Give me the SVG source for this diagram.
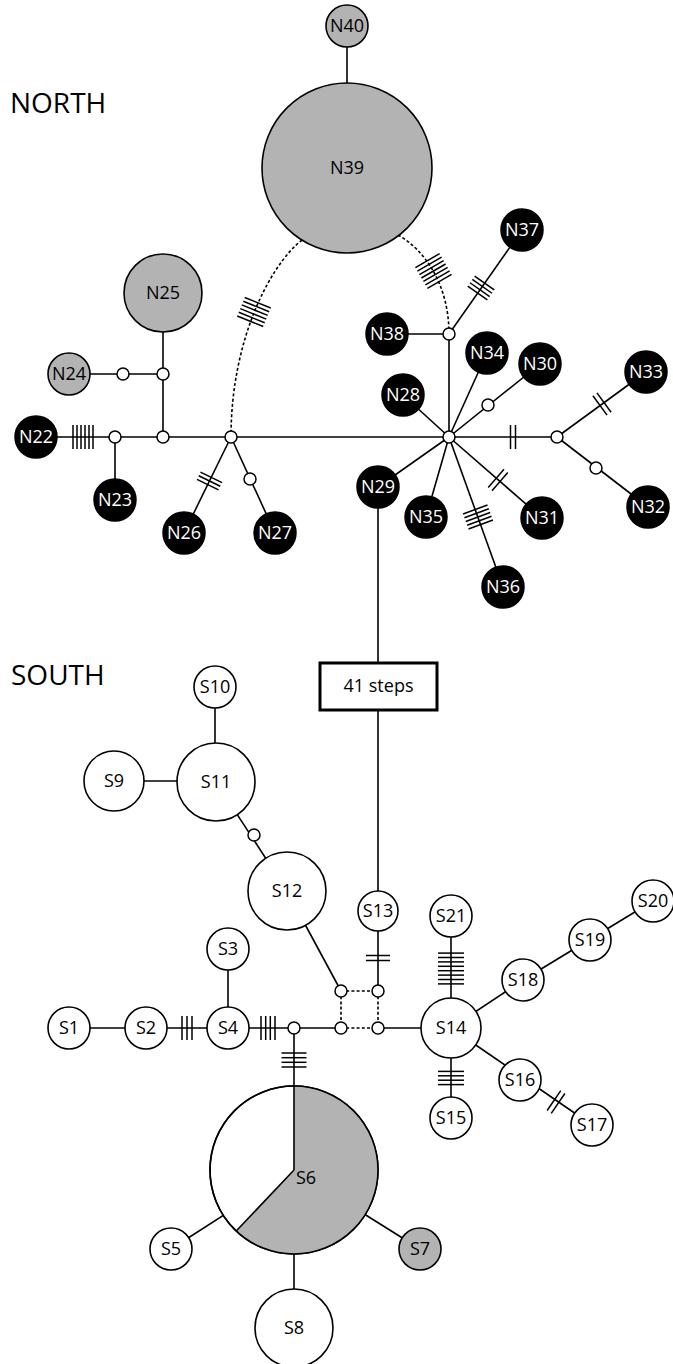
<svg xmlns="http://www.w3.org/2000/svg" width="673" height="1364" viewBox="0 0 673 1364">
  <defs>
    <style>
      .e { stroke: #000; stroke-width: 1.6; fill: none; }
      .d { stroke: #000; stroke-width: 1.6; fill: none; stroke-dasharray: 3 2.2; }
      .tk line { stroke: #000; stroke-width: 1.5; }
      .blk { fill: #000; stroke: #000; stroke-width: 1.5; }
      .gry { fill: #b3b3b3; stroke: #000; stroke-width: 1.6; }
      .wht { fill: #fff; stroke: #000; stroke-width: 1.6; }
      .mv { fill: #fff; stroke: #000; stroke-width: 1.5; }
      .lb { font-family: "Open Sans", "DejaVu Sans", sans-serif; font-size: 18px; text-anchor: middle; fill: #000; }
      .lw { font-family: "Open Sans", "DejaVu Sans", sans-serif; font-size: 18px; text-anchor: middle; fill: #fff; }
      .ttl { font-family: "Open Sans", "DejaVu Sans", sans-serif; font-size: 28px; fill: #000; }
    </style>
  </defs>
  <rect width="673" height="1364" fill="#fff"/>

  <!-- region titles -->
  <text class="ttl" x="10" y="113">NORTH</text>
  <text class="ttl" x="11" y="685">SOUTH</text>

  <!-- connectors -->
  <g id="connectors">
    <!-- north -->
    <line class="e" x1="347" y1="47" x2="347" y2="83"/>
    <path class="d" d="M302 240 C270 265 231 340 231 437"/>
    <path class="d" d="M398 235 C425 250 449 285 449 334"/>
    <line class="e" x1="57" y1="437" x2="557" y2="437"/>
    <line class="e" x1="115" y1="437" x2="115" y2="479"/>
    <line class="e" x1="163" y1="332" x2="163" y2="437"/>
    <line class="e" x1="90" y1="374" x2="163" y2="374"/>
    <line class="e" x1="231" y1="437" x2="184" y2="533"/>
    <line class="e" x1="231" y1="437" x2="275" y2="533"/>
    <line class="e" x1="387" y1="334" x2="449" y2="334"/>
    <line class="e" x1="449" y1="334" x2="449" y2="437"/>
    <line class="e" x1="449" y1="334" x2="522" y2="230"/>
    <line class="e" x1="449" y1="437" x2="487" y2="353"/>
    <line class="e" x1="449" y1="437" x2="540" y2="364"/>
    <line class="e" x1="449" y1="437" x2="403" y2="395"/>
    <line class="e" x1="449" y1="437" x2="378" y2="487"/>
    <line class="e" x1="449" y1="437" x2="426" y2="517"/>
    <line class="e" x1="449" y1="437" x2="503" y2="587"/>
    <line class="e" x1="449" y1="437" x2="542" y2="518"/>
    <line class="e" x1="557" y1="437" x2="646" y2="372"/>
    <line class="e" x1="557" y1="437" x2="648" y2="507"/>
    <!-- link between regions -->
    <line class="e" x1="378" y1="508" x2="378" y2="663"/>
    <line class="e" x1="378" y1="710" x2="378" y2="891"/>
    <!-- south -->
    <line class="e" x1="378" y1="931" x2="378" y2="991"/>
    <line class="e" x1="287" y1="891" x2="341" y2="991"/>
    <line class="d" x1="341" y1="991" x2="378" y2="991"/>
    <line class="d" x1="341" y1="991" x2="341" y2="1028"/>
    <line class="d" x1="378" y1="991" x2="378" y2="1028"/>
    <line class="d" x1="341" y1="1028" x2="378" y2="1028"/>
    <line class="e" x1="69" y1="1028" x2="341" y2="1028"/>
    <line class="e" x1="378" y1="1028" x2="421" y2="1028"/>
    <line class="e" x1="228" y1="949" x2="228" y2="1028"/>
    <line class="e" x1="294" y1="1028" x2="294" y2="1086"/>
    <line class="e" x1="451" y1="916" x2="451" y2="1118"/>
    <line class="e" x1="451" y1="1028" x2="523" y2="980"/>
    <line class="e" x1="523" y1="980" x2="653" y2="901"/>
    <line class="e" x1="451" y1="1028" x2="592" y2="1125"/>
    <line class="e" x1="114" y1="781" x2="216" y2="781"/>
    <line class="e" x1="215" y1="687" x2="215" y2="743"/>
    <line class="e" x1="216" y1="782" x2="287" y2="891"/>
    <line class="e" x1="294" y1="1170" x2="171" y2="1249"/>
    <line class="e" x1="294" y1="1170" x2="420" y2="1249"/>
    <line class="e" x1="294" y1="1170" x2="294" y2="1328"/>

    <!-- mutation ticks -->
    <g class="tk" transform="translate(83 437)">
      <line x1="-10" y1="-12" x2="-10" y2="12"/><line x1="-6" y1="-12" x2="-6" y2="12"/>
      <line x1="-2" y1="-12" x2="-2" y2="12"/><line x1="2" y1="-12" x2="2" y2="12"/>
      <line x1="6" y1="-12" x2="6" y2="12"/><line x1="10" y1="-12" x2="10" y2="12"/>
    </g>
    <g class="tk" transform="translate(209.5 481) rotate(116)">
      <line x1="-4" y1="-12" x2="-4" y2="12"/><line x1="0" y1="-12" x2="0" y2="12"/>
      <line x1="4" y1="-12" x2="4" y2="12"/>
    </g>
    <g class="tk" transform="translate(254 312) rotate(112)">
      <line x1="-10" y1="-14" x2="-10" y2="14"/><line x1="-6" y1="-14" x2="-6" y2="14"/>
      <line x1="-2" y1="-14" x2="-2" y2="14"/><line x1="2" y1="-14" x2="2" y2="14"/>
      <line x1="6" y1="-14" x2="6" y2="14"/><line x1="10" y1="-14" x2="10" y2="14"/>
    </g>
    <g class="tk" transform="translate(433.5 271) rotate(60)">
      <line x1="-12" y1="-14" x2="-12" y2="14"/><line x1="-8" y1="-14" x2="-8" y2="14"/>
      <line x1="-4" y1="-14" x2="-4" y2="14"/><line x1="0" y1="-14" x2="0" y2="14"/>
      <line x1="4" y1="-14" x2="4" y2="14"/><line x1="8" y1="-14" x2="8" y2="14"/>
      <line x1="12" y1="-14" x2="12" y2="14"/>
    </g>
    <g class="tk" transform="translate(481 288) rotate(-55)">
      <line x1="-6" y1="-12" x2="-6" y2="12"/><line x1="-2" y1="-12" x2="-2" y2="12"/>
      <line x1="2" y1="-12" x2="2" y2="12"/><line x1="6" y1="-12" x2="6" y2="12"/>
    </g>
    <g class="tk" transform="translate(513 437)">
      <line x1="-2.5" y1="-12" x2="-2.5" y2="12"/><line x1="2.5" y1="-12" x2="2.5" y2="12"/>
    </g>
    <g class="tk" transform="translate(602 404) rotate(-36)">
      <line x1="-2.5" y1="-12" x2="-2.5" y2="12"/><line x1="2.5" y1="-12" x2="2.5" y2="12"/>
    </g>
    <g class="tk" transform="translate(498 480) rotate(41)">
      <line x1="-2.5" y1="-12" x2="-2.5" y2="12"/><line x1="2.5" y1="-12" x2="2.5" y2="12"/>
    </g>
    <g class="tk" transform="translate(478 517) rotate(70)">
      <line x1="-8" y1="-13" x2="-8" y2="13"/><line x1="-4" y1="-13" x2="-4" y2="13"/>
      <line x1="0" y1="-13" x2="0" y2="13"/><line x1="4" y1="-13" x2="4" y2="13"/>
      <line x1="8" y1="-13" x2="8" y2="13"/>
    </g>
    <g class="tk" transform="translate(187 1028)">
      <line x1="-5" y1="-12" x2="-5" y2="12"/><line x1="0" y1="-12" x2="0" y2="12"/>
      <line x1="5" y1="-12" x2="5" y2="12"/>
    </g>
    <g class="tk" transform="translate(268 1028)">
      <line x1="-7" y1="-12" x2="-7" y2="12"/><line x1="-2.3" y1="-12" x2="-2.3" y2="12"/>
      <line x1="2.3" y1="-12" x2="2.3" y2="12"/><line x1="7" y1="-12" x2="7" y2="12"/>
    </g>
    <g class="tk" transform="translate(294 1060) rotate(90)">
      <line x1="-7" y1="-12.5" x2="-7" y2="12.5"/><line x1="-2.3" y1="-12.5" x2="-2.3" y2="12.5"/>
      <line x1="2.3" y1="-12.5" x2="2.3" y2="12.5"/><line x1="7" y1="-12.5" x2="7" y2="12.5"/>
    </g>
    <g class="tk" transform="translate(378 958) rotate(90)">
      <line x1="-2.5" y1="-12" x2="-2.5" y2="12"/><line x1="2.5" y1="-12" x2="2.5" y2="12"/>
    </g>
    <g class="tk" transform="translate(451 968.5) rotate(90)">
      <line x1="-15.4" y1="-13" x2="-15.4" y2="13"/><line x1="-11" y1="-13" x2="-11" y2="13"/>
      <line x1="-6.6" y1="-13" x2="-6.6" y2="13"/><line x1="-2.2" y1="-13" x2="-2.2" y2="13"/>
      <line x1="2.2" y1="-13" x2="2.2" y2="13"/><line x1="6.6" y1="-13" x2="6.6" y2="13"/>
      <line x1="11" y1="-13" x2="11" y2="13"/><line x1="15.4" y1="-13" x2="15.4" y2="13"/>
    </g>
    <g class="tk" transform="translate(451 1078) rotate(90)">
      <line x1="-6.6" y1="-13" x2="-6.6" y2="13"/><line x1="-2.2" y1="-13" x2="-2.2" y2="13"/>
      <line x1="2.2" y1="-13" x2="2.2" y2="13"/><line x1="6.6" y1="-13" x2="6.6" y2="13"/>
    </g>
    <g class="tk" transform="translate(556 1102) rotate(34.5)">
      <line x1="-2.5" y1="-12" x2="-2.5" y2="12"/><line x1="2.5" y1="-12" x2="2.5" y2="12"/>
    </g>
  </g>

  <!-- median vectors -->
  <g id="median-vectors">
    <circle class="mv" cx="115" cy="437" r="6"/>
    <circle class="mv" cx="163" cy="437" r="6"/>
    <circle class="mv" cx="163" cy="374" r="6"/>
    <circle class="mv" cx="123" cy="374" r="6"/>
    <circle class="mv" cx="231" cy="437" r="6"/>
    <circle class="mv" cx="250" cy="479" r="6"/>
    <circle class="mv" cx="449" cy="334" r="6"/>
    <circle class="mv" cx="449" cy="437" r="6"/>
    <circle class="mv" cx="488" cy="405" r="6"/>
    <circle class="mv" cx="557" cy="437" r="6"/>
    <circle class="mv" cx="596" cy="468" r="6"/>
    <circle class="mv" cx="254" cy="835" r="6"/>
    <circle class="mv" cx="294" cy="1028" r="6"/>
    <circle class="mv" cx="341" cy="991" r="6"/>
    <circle class="mv" cx="378" cy="991" r="6"/>
    <circle class="mv" cx="341" cy="1028" r="6"/>
    <circle class="mv" cx="378" cy="1028" r="6"/>
  </g>

  <!-- north haplotypes -->
  <g id="N40"><circle class="gry" cx="347" cy="26" r="21"/><text class="lb" x="347" y="32">N40</text></g>
  <g id="N39"><circle class="gry" cx="347" cy="168" r="85"/><text class="lb" x="347" y="174">N39</text></g>
  <g id="N25"><circle class="gry" cx="163" cy="293" r="39"/><text class="lb" x="163" y="299">N25</text></g>
  <g id="N24"><circle class="gry" cx="69" cy="374" r="21"/><text class="lb" x="69" y="380">N24</text></g>
  <g id="N22"><circle class="blk" cx="36" cy="437" r="21"/><text class="lw" x="36" y="443">N22</text></g>
  <g id="N23"><circle class="blk" cx="115" cy="500" r="21"/><text class="lw" x="115" y="506">N23</text></g>
  <g id="N26"><circle class="blk" cx="184" cy="533" r="21"/><text class="lw" x="184" y="539">N26</text></g>
  <g id="N27"><circle class="blk" cx="275" cy="533" r="21"/><text class="lw" x="275" y="539">N27</text></g>
  <g id="N37"><circle class="blk" cx="522" cy="230" r="21"/><text class="lw" x="522" y="236">N37</text></g>
  <g id="N38"><circle class="blk" cx="387" cy="334" r="21"/><text class="lw" x="387" y="340">N38</text></g>
  <g id="N34"><circle class="blk" cx="487" cy="353" r="21"/><text class="lw" x="487" y="359">N34</text></g>
  <g id="N30"><circle class="blk" cx="540" cy="364" r="21"/><text class="lw" x="540" y="370">N30</text></g>
  <g id="N28"><circle class="blk" cx="403" cy="395" r="21"/><text class="lw" x="403" y="401">N28</text></g>
  <g id="N33"><circle class="blk" cx="646" cy="372" r="21"/><text class="lw" x="646" y="378">N33</text></g>
  <g id="N29"><circle class="blk" cx="378" cy="487" r="21"/><text class="lw" x="378" y="493">N29</text></g>
  <g id="N35"><circle class="blk" cx="426" cy="517" r="21"/><text class="lw" x="426" y="523">N35</text></g>
  <g id="N31"><circle class="blk" cx="542" cy="518" r="21"/><text class="lw" x="542" y="524">N31</text></g>
  <g id="N36"><circle class="blk" cx="503" cy="587" r="21"/><text class="lw" x="503" y="593">N36</text></g>
  <g id="N32"><circle class="blk" cx="648" cy="507" r="21"/><text class="lw" x="648" y="513">N32</text></g>

  <!-- step count box -->
  <g id="steps">
    <rect x="320" y="663" width="117" height="47" fill="#fff" stroke="#000" stroke-width="3"/>
    <text class="lb" x="378.5" y="692">41 steps</text>
  </g>

  <!-- south haplotypes -->
  <g id="S10"><circle class="wht" cx="215" cy="687" r="21"/><text class="lb" x="215" y="693">S10</text></g>
  <g id="S11"><circle class="wht" cx="216" cy="782" r="39"/><text class="lb" x="216" y="788">S11</text></g>
  <g id="S9"><circle class="wht" cx="114" cy="781" r="30"/><text class="lb" x="114" y="787">S9</text></g>
  <g id="S12"><circle class="wht" cx="287" cy="891" r="39"/><text class="lb" x="287" y="897">S12</text></g>
  <g id="S13"><circle class="wht" cx="378" cy="911" r="20"/><text class="lb" x="378" y="917">S13</text></g>
  <g id="S21"><circle class="wht" cx="451" cy="916" r="21"/><text class="lb" x="451" y="922">S21</text></g>
  <g id="S3"><circle class="wht" cx="228" cy="949" r="21"/><text class="lb" x="228" y="955">S3</text></g>
  <g id="S1"><circle class="wht" cx="69" cy="1028" r="21"/><text class="lb" x="69" y="1034">S1</text></g>
  <g id="S2"><circle class="wht" cx="146" cy="1028" r="21"/><text class="lb" x="146" y="1034">S2</text></g>
  <g id="S4"><circle class="wht" cx="228" cy="1028" r="21"/><text class="lb" x="228" y="1034">S4</text></g>
  <g id="S14"><circle class="wht" cx="451" cy="1028" r="30"/><text class="lb" x="451" y="1034">S14</text></g>
  <g id="S15"><circle class="wht" cx="451" cy="1118" r="21"/><text class="lb" x="451" y="1124">S15</text></g>
  <g id="S18"><circle class="wht" cx="523" cy="980" r="21"/><text class="lb" x="523" y="986">S18</text></g>
  <g id="S19"><circle class="wht" cx="590" cy="940" r="21"/><text class="lb" x="590" y="946">S19</text></g>
  <g id="S20"><circle class="wht" cx="653" cy="901" r="21"/><text class="lb" x="653" y="907">S20</text></g>
  <g id="S16"><circle class="wht" cx="520" cy="1080" r="21"/><text class="lb" x="520" y="1086">S16</text></g>
  <g id="S17"><circle class="wht" cx="592" cy="1125" r="21"/><text class="lb" x="592" y="1131">S17</text></g>
  <g id="S6">
    <circle class="wht" cx="294" cy="1170" r="84"/>
    <path d="M294 1170 L294 1086 A84 84 0 1 1 236.2 1231 Z" fill="#b3b3b3"/>
    <circle cx="294" cy="1170" r="84" fill="none" stroke="#000" stroke-width="1.6"/>
    <line class="e" x1="294" y1="1086" x2="294" y2="1170"/>
    <line class="e" x1="294" y1="1170" x2="236.2" y2="1231"/>
    <text class="lb" x="296" y="1184" text-anchor="start" style="text-anchor:start">S6</text>
  </g>
  <g id="S5"><circle class="wht" cx="171" cy="1249" r="21"/><text class="lb" x="171" y="1255">S5</text></g>
  <g id="S7"><circle class="gry" cx="420" cy="1249" r="21"/><text class="lb" x="420" y="1255">S7</text></g>
  <g id="S8"><circle class="wht" cx="294" cy="1328" r="39"/><text class="lb" x="294" y="1334">S8</text></g>
</svg>
